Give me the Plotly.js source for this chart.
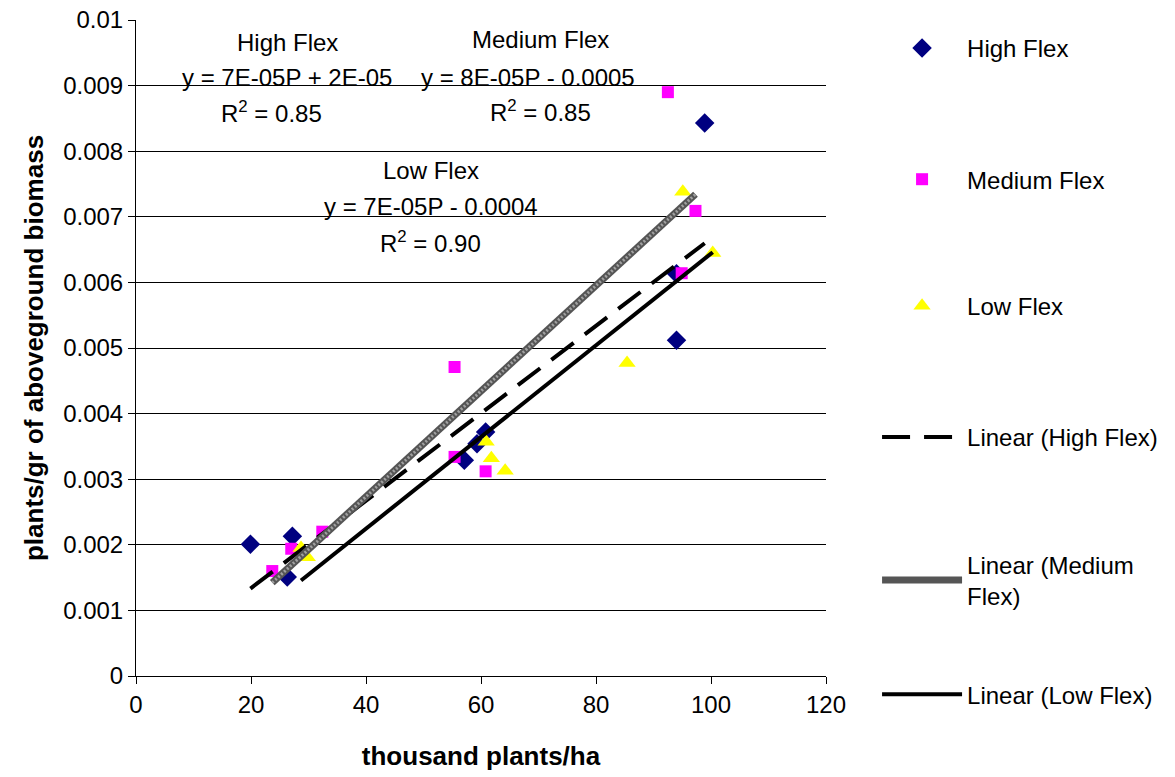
<!DOCTYPE html>
<html>
<head>
<meta charset="utf-8">
<script src="https://cdn.plot.ly/plotly-3.0.1.min.js"></script>
<style>html,body{margin:0;padding:0;background:#fff;}#chart{width:1175px;height:777px;}</style>
</head>
<body>
<div id="chart"></div>
<script>
// Data (x: thousand plants/ha, y: plants/gr of aboveground biomass)
const highX = [19.9, 27.2, 26.3, 57.1, 59.3, 60.8, 98.9, 94.0, 94.0];
const highY = [0.00201, 0.00213, 0.00151, 0.00329, 0.00354, 0.00372, 0.00843, 0.00512, 0.00613];
const medX = [23.7, 27.0, 32.4, 55.4, 55.4, 60.8, 92.5, 97.3, 94.9];
const medY = [0.00160, 0.00194, 0.00220, 0.00471, 0.00334, 0.00312, 0.00890, 0.00709, 0.00614];
const lowX = [28.7, 29.8, 60.9, 61.8, 64.2, 85.4, 95.1, 100.3];
const lowY = [0.00195, 0.00181, 0.00357, 0.00332, 0.00313, 0.00477, 0.00738, 0.00645];
const seriesNames = ["High Flex", "Medium Flex", "Low Flex"];
const trendNames = ["Linear (High Flex)", "Linear (Medium<br>Flex)", "Linear (Low Flex)"];
const xTicks = [0, 20, 40, 60, 80, 100, 120];
const yTicks = [0, 0.001, 0.002, 0.003, 0.004, 0.005, 0.006, 0.007, 0.008, 0.009, 0.01];

function fit(xs, ys) {
  const n = xs.length;
  const mx = xs.reduce((a, b) => a + b, 0) / n;
  const my = ys.reduce((a, b) => a + b, 0) / n;
  let sxy = 0, sxx = 0;
  for (let i = 0; i < n; i++) { sxy += (xs[i] - mx) * (ys[i] - my); sxx += (xs[i] - mx) ** 2; }
  const m = sxy / sxx, b = my - m * mx;
  const x0 = Math.min(...xs), x1 = Math.max(...xs);
  return { x: [x0, x1], y: [m * x0 + b, m * x1 + b] };
}
const fh = fit(highX, highY), fm = fit(medX, medY), fl = fit(lowX, lowY);

const FONT = "Liberation Sans, Arial, sans-serif";
const FS = 24;
const traces = [
  { x: highX, y: highY, type: "scatter", mode: "markers", name: seriesNames[0], legend: "legend",
    marker: { symbol: "diamond", size: 15, color: "#000080" } },
  { x: medX, y: medY, type: "scatter", mode: "markers", name: seriesNames[1], legend: "legend2",
    marker: { symbol: "square", size: 12, color: "#ff00ff" } },
  { x: lowX, y: lowY, type: "scatter", mode: "markers", name: seriesNames[2], legend: "legend3",
    marker: { symbol: "triangle-up", size: 15, color: "#ffff00" } },
  { x: fh.x, y: fh.y, type: "scatter", mode: "lines", name: trendNames[0], legend: "legend4",
    line: { color: "#000", width: 4, dash: "28px,14px" } },
  { x: fm.x, y: fm.y, type: "scatter", mode: "lines", name: trendNames[1], legend: "legend5",
    line: { color: "#555", width: 7 } },
  { x: fm.x, y: fm.y, type: "scatter", mode: "lines", showlegend: false, hoverinfo: "skip",
    line: { color: "#a0a0a0", width: 3, dash: "2px,2px" } },
  { x: fl.x, y: fl.y, type: "scatter", mode: "lines", name: trendNames[2], legend: "legend6",
    line: { color: "#000", width: 4 } }
];

const annFont = { family: FONT, size: FS, color: "#000" };
const annotations = [
  { x: 26.3, y: 0.00966, text: "High Flex" },
  { x: 26.3, y: 0.00912, text: "y = 7E-05P + 2E-05" },
  { x: 23.5, y: 0.00860, text: "R<sup>2</sup> = 0.85" },
  { x: 70.3, y: 0.00970, text: "Medium Flex" },
  { x: 68.1, y: 0.00912, text: "y = 8E-05P - 0.0005" },
  { x: 70.3, y: 0.00861, text: "R<sup>2</sup> = 0.85" },
  { x: 51.3, y: 0.00770, text: "Low Flex" },
  { x: 51.3, y: 0.00716, text: "y = 7E-05P - 0.0004" },
  { x: 51.3, y: 0.00662, text: "R<sup>2</sup> = 0.90" }
].map(a => Object.assign({ xref: "x", yref: "y", showarrow: false, font: annFont, xanchor: "center", yanchor: "middle" }, a));

function leg(y) {
  return { x: 1.074, xanchor: "left", y: y, yanchor: "top",
    font: { family: FONT, size: FS, color: "#000" }, bgcolor: "rgba(0,0,0,0)", itemwidth: 80 };
}

const layout = {
  width: 1175, height: 777,
  margin: { l: 136, r: 347, t: 20, b: 101 },
  paper_bgcolor: "#fff", plot_bgcolor: "#fff",
  font: { family: FONT, size: FS, color: "#000" },
  showlegend: true,
  legend: leg(0.991),
  legend2: leg(0.791),
  legend3: leg(0.598),
  legend4: leg(0.398),
  legend5: leg(0.204),
  legend6: leg(0.006),
  xaxis: {
    range: [0, 120], tickvals: xTicks, ticktext: xTicks.map(String), ticks: "outside", ticklen: 7,
    tickcolor: "#000", showline: true, linecolor: "#000", linewidth: 1, showgrid: false, zeroline: false,
    tickfont: { family: FONT, size: FS },
    title: { text: "<b>thousand plants/ha</b>", font: { family: FONT, size: 26 }, standoff: 30 }
  },
  yaxis: {
    range: [0, 0.01], tickvals: yTicks, ticktext: yTicks.map(v => String(v)), ticks: "outside", ticklen: 7,
    tickcolor: "#000", showline: true, linecolor: "#000", linewidth: 1, showgrid: true, gridcolor: "#000",
    gridwidth: 1, zeroline: false, tickfont: { family: FONT, size: FS },
    title: { text: "<b>plants/gr of aboveground biomass</b>", font: { family: FONT, size: 26 }, standoff: 12 }
  },
  annotations: annotations
};

Plotly.newPlot("chart", traces, layout, { displayModeBar: false, staticPlot: true });
</script>
</body>
</html>
